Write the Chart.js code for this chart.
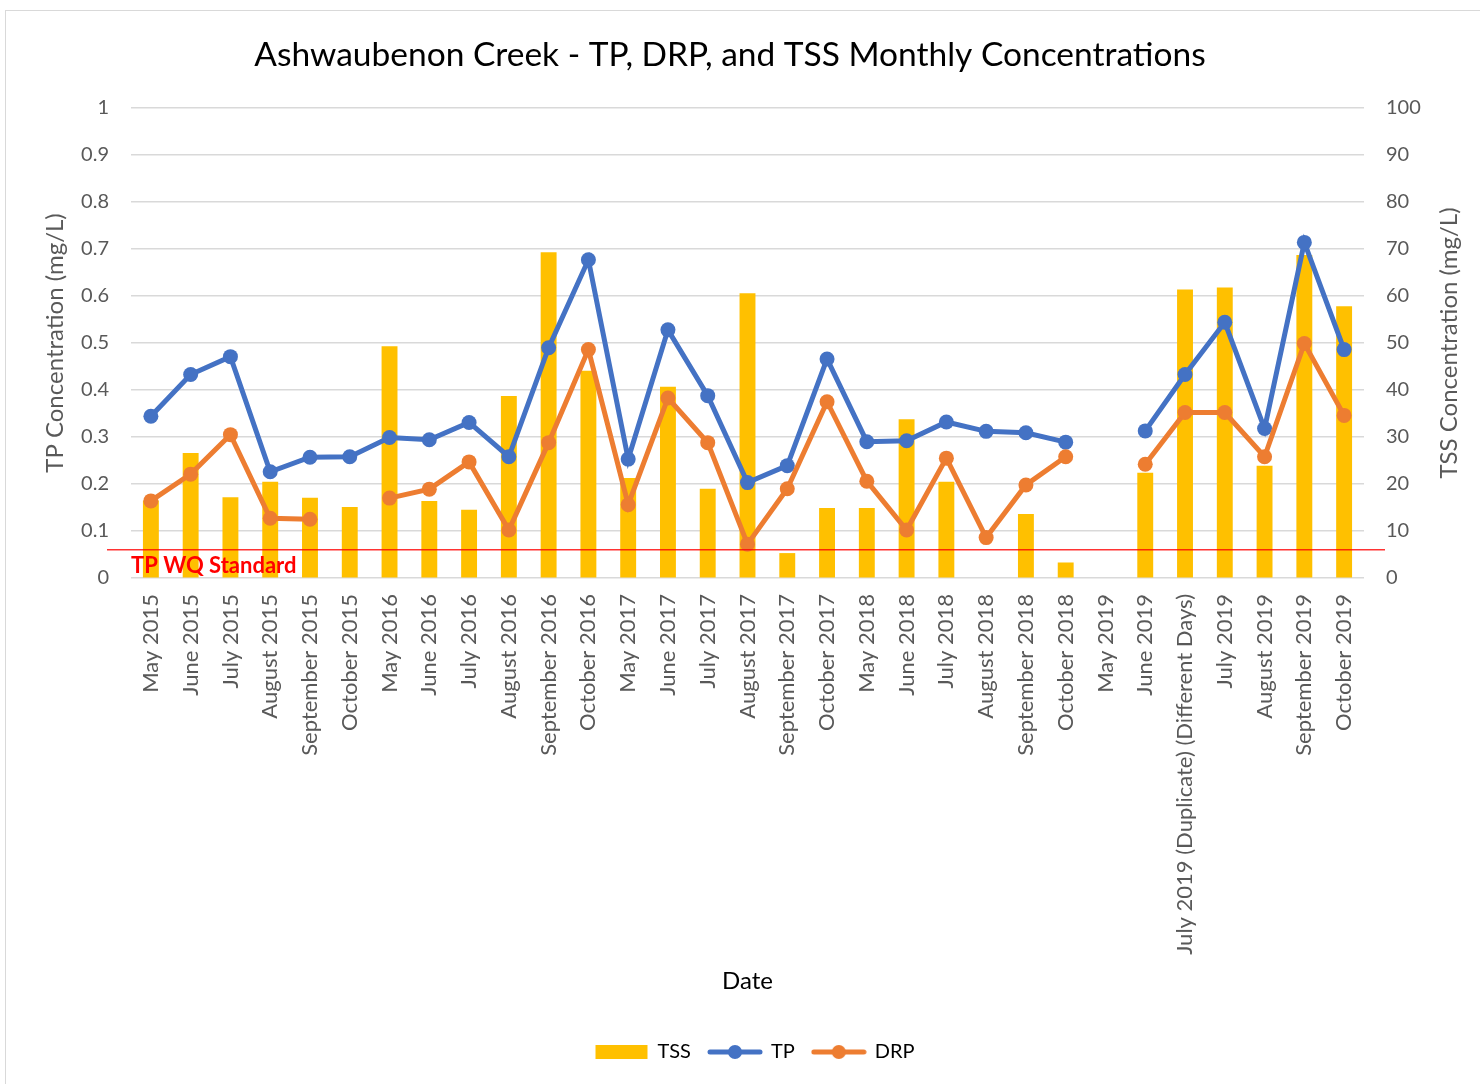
<!DOCTYPE html>
<html>
<head>
<meta charset="utf-8">
<script src="https://cdn.jsdelivr.net/npm/chart.js@4.4.1/dist/chart.umd.min.js"></script>
<style>
  html, body { margin: 0; padding: 0; background: #fff; }
  #frame { position: absolute; left: 5px; top: 10px; width: 1500px; height: 1100px; border: 1.5px solid #d9d9d9; }
  #wrap { position: absolute; left: 0; top: 0; width: 1480px; height: 1084px; }
</style>
</head>
<body>
<div id="frame"></div>
<div id="wrap"><canvas id="chart" width="1480" height="1084"></canvas></div>
<script>
const months = [
  "May 2015", "June 2015", "July 2015", "August 2015", "September 2015", "October 2015",
  "May 2016", "June 2016", "July 2016", "August 2016", "September 2016", "October 2016",
  "May 2017", "June 2017", "July 2017", "August 2017", "September 2017", "October 2017",
  "May 2018", "June 2018", "July 2018", "August 2018", "September 2018", "October 2018",
  "May 2019", "June 2019", "July 2019 (Duplicate) (Different Days)", "July 2019",
  "August 2019", "September 2019", "October 2019"
];
// TSS, mg/L (right axis)
const tss = [16.5, 26.6, 17.2, 20.5, 17.1, 15.1, 49.3, 16.4, 14.5, 38.7, 69.3, 44.1,
  21.3, 40.7, 19.0, 60.6, 5.3, 14.9, 14.9, 33.8, 20.5, null, 13.6, 3.3,
  null, 22.4, 61.4, 61.8, 23.9, 68.7, 57.8];
// TP, mg/L (left axis)
const tp = [0.344, 0.433, 0.471, 0.226, 0.257, 0.258, 0.299, 0.294, 0.331, 0.258, 0.490, 0.677,
  0.253, 0.528, 0.388, 0.203, 0.239, 0.466, 0.290, 0.292, 0.332, 0.312, 0.309, 0.289,
  null, 0.313, 0.433, 0.544, 0.318, 0.714, 0.486];
// DRP, mg/L (left axis)
const drp = [0.164, 0.221, 0.305, 0.127, 0.125, null, 0.170, 0.189, 0.247, 0.102, 0.288, 0.486,
  0.156, 0.383, 0.288, 0.072, 0.190, 0.375, 0.206, 0.102, 0.255, 0.086, 0.198, 0.258,
  null, 0.242, 0.352, 0.352, 0.258, 0.499, 0.346];
const tpStandard = 0.06;
const chartTitle = "Ashwaubenon Creek - TP, DRP, and TSS Monthly Concentrations";

const FONT = "Lato, 'Open Sans', sans-serif";
const GREY = "#595959";
const YELLOW = "#FFC000", BLUE = "#4472C4", ORANGE = "#ED7D31";

// legend swatches drawn like the spreadsheet ones
function swatch(color, isLine) {
  const c = document.createElement("canvas");
  c.width = 56; c.height = 16;
  const g = c.getContext("2d");
  g.fillStyle = color; g.strokeStyle = color;
  if (isLine) {
    g.lineWidth = 5; g.lineCap = "round";
    g.beginPath(); g.moveTo(3, 8); g.lineTo(53, 8); g.stroke();
    g.beginPath(); g.arc(28, 8, 7, 0, Math.PI * 2); g.fill();
  } else {
    g.fillRect(2, 1, 52, 14);
  }
  return c;
}
const swatches = [swatch(YELLOW, false), swatch(BLUE, true), swatch(ORANGE, true)];

const extras = {
  id: "extras",
  afterLayout(chart) {
    // the original legend sits a bit right of the canvas middle
    chart.legend.left += 15;
    chart.legend.right += 15;
  },
  afterDatasetsDraw(chart) {
    const { ctx, chartArea } = chart;
    const y = chart.scales.y.getPixelForValue(tpStandard);
    ctx.save();
    ctx.strokeStyle = "rgba(255,0,0,0.8)";
    ctx.lineWidth = 1.5;
    ctx.beginPath();
    ctx.moveTo(chartArea.left - 24, y);
    ctx.lineTo(chartArea.right + 21, y);
    ctx.stroke();
    ctx.fillStyle = "#FF0000";
    ctx.font = "bold 22px " + FONT;
    ctx.textBaseline = "middle";
    ctx.fillText("TP WQ Standard", chartArea.left, y + 16);
    ctx.restore();
  },
  afterDraw(chart) {
    const { ctx, chartArea } = chart;
    ctx.save();
    // title, centred a little left of the canvas middle as in the original
    ctx.fillStyle = "#000";
    ctx.font = "33.5px " + FONT;
    ctx.textAlign = "center";
    ctx.textBaseline = "middle";
    ctx.fillText(chartTitle, 730, 55);
    // right axis title reads bottom-to-top like the left one
    ctx.translate(1449, (chartArea.top + chartArea.bottom) / 2);
    ctx.rotate(-Math.PI / 2);
    ctx.fillStyle = GREY;
    ctx.font = "24px " + FONT;
    ctx.fillText("TSS Concentration (mg/L)", 0, 0);
    ctx.restore();
  }
};

new Chart(document.getElementById("chart"), {
  data: {
    labels: months,
    datasets: [
      { type: "bar", label: "TSS", data: tss, yAxisID: "y1", order: 3,
        backgroundColor: YELLOW, barPercentage: 0.4, categoryPercentage: 1 },
      { type: "line", label: "TP", data: tp, yAxisID: "y", order: 2,
        borderColor: BLUE, backgroundColor: BLUE, borderWidth: 5,
        pointRadius: 7.5, pointHoverRadius: 7.5, pointBorderWidth: 0, pointBackgroundColor: BLUE },
      { type: "line", label: "DRP", data: drp, yAxisID: "y", order: 1,
        borderColor: ORANGE, backgroundColor: ORANGE, borderWidth: 5,
        pointRadius: 7.5, pointHoverRadius: 7.5, pointBorderWidth: 0, pointBackgroundColor: ORANGE }
    ]
  },
  options: {
    responsive: false,
    animation: false,
    layout: { padding: { left: 0, right: 0, top: 108, bottom: 12 } },
    plugins: {
      title: { display: false },
      legend: {
        position: "bottom",
        reverse: true,
        labels: {
          usePointStyle: true, pointStyleWidth: 52,
          color: "#000", font: { family: FONT, size: 20 }, padding: 18,
          generateLabels(chart) {
            const items = Chart.defaults.plugins.legend.labels.generateLabels(chart);
            items.forEach(it => { it.pointStyle = swatches[it.datasetIndex]; });
            return items;
          }
        }
      },
      tooltip: { enabled: false }
    },
    scales: {
      x: {
        grid: { display: false },
        border: { display: false },
        ticks: { color: GREY, font: { family: FONT, size: 22 }, minRotation: 90, maxRotation: 90,
          autoSkip: false, padding: 8 },
        title: { display: true, text: "Date", color: "#000", font: { family: FONT, size: 24 },
          padding: { top: 14, bottom: 28 } },
        afterFit(s) { s.height = 446; }
      },
      y: {
        position: "left", min: 0, max: 1,
        grid: { color: "#d9d9d9", lineWidth: 1.5, drawTicks: false },
        border: { display: false },
        ticks: { stepSize: 0.1, color: GREY, font: { family: FONT, size: 20 }, padding: 22,
          callback: v => String(Math.round(v * 10) / 10) },
        title: { display: true, text: "TP Concentration (mg/L)", color: GREY,
          font: { family: FONT, size: 24 }, padding: { top: 41, bottom: 0 } },
        afterFit(s) { s.width = 131; }
      },
      y1: {
        position: "right", min: 0, max: 100,
        grid: { drawOnChartArea: false, drawTicks: false },
        border: { display: false },
        ticks: { stepSize: 10, color: GREY, font: { family: FONT, size: 20 }, padding: 22 },
        afterFit(s) { s.width = 116; }
      }
    }
  },
  plugins: [extras]
});
</script>
</body>
</html>
